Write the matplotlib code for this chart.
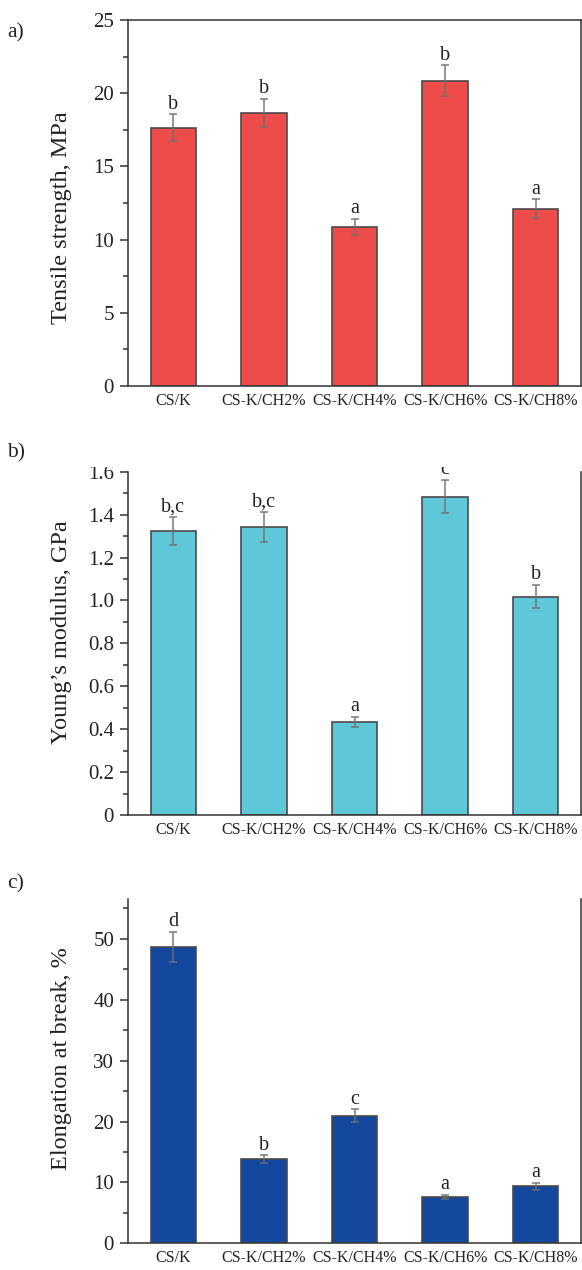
import matplotlib
matplotlib.use("Agg")
import matplotlib.pyplot as plt
from matplotlib.ticker import MultipleLocator
from matplotlib.patches import Rectangle

plt.rcParams['font.family'] = ['Liberation Serif', 'DejaVu Serif']

categories = ["CS/K", "CS-K/CH2%", "CS-K/CH4%", "CS-K/CH6%", "CS-K/CH8%"]

tensile = [17.65, 18.65, 10.88, 20.85, 12.1]
tensile_err = [0.9, 0.95, 0.55, 1.05, 0.65]
tensile_letters = ["b", "b", "a", "b", "a"]

modulus = [1.325, 1.342, 0.434, 1.484, 1.018]
modulus_err = [0.065, 0.07, 0.025, 0.077, 0.054]
modulus_letters = ["b,c", "b,c", "a", "c", "b"]

elong = [48.7, 13.8, 20.97, 7.66, 9.35]
elong_err = [2.45, 0.65, 1.05, 0.35, 0.6]
elong_letters = ["d", "b", "c", "a", "a"]

W, H = 582, 1270
fig = plt.figure(figsize=(W / 100, H / 100), dpi=100)


def make_axes(top_px, bottom_px):
    left, right = 128, 581
    return fig.add_axes([left / W, 1 - bottom_px / H, (right - left) / W, (bottom_px - top_px) / H])


def draw(ax, vals, errs, letters, color, ylim, major, minor, ylabel, fmt, top_spine, label_y):
    x = list(range(1, len(categories) + 1))
    ax.bar(x, vals, width=0.5, color=color, edgecolor="#4a4a4a", linewidth=1.2, zorder=2)
    ax.errorbar(x, vals, yerr=errs, fmt="none", ecolor="#707070", elinewidth=1.2,
                capsize=3, capthick=1.2, alpha=0.85, zorder=3)
    for xi, v, e, t in zip(x, vals, errs, letters):
        ax.annotate(t, (xi, v + e), xytext=(0, 0.5), textcoords="offset points",
                    ha="center", va="bottom", fontsize=14.5, color="#222222",
                    annotation_clip=False)
    ax.set_xlim(0.5, 5.5)
    ax.set_ylim(*ylim)
    ax.set_xticks(x)
    ax.set_xticklabels(categories, fontsize=11.5, color="#222222")
    ax.yaxis.set_major_locator(MultipleLocator(major))
    ax.yaxis.set_minor_locator(MultipleLocator(minor))
    ax.yaxis.set_major_formatter(fmt)
    ax.tick_params(axis="y", which="major", direction="out", length=6, width=1.1,
                   labelsize=15, colors="#333333", labelcolor="#222222", pad=4)
    ax.tick_params(axis="y", which="minor", direction="out", length=3.5, width=1.1, colors="#333333")
    ax.tick_params(axis="x", length=0, pad=5)
    ax.set_ylabel(ylabel, fontsize=17.5, color="#222222")
    ax.yaxis.set_label_coords(-0.124, label_y)
    for s in ax.spines.values():
        s.set_color("#333333")
        s.set_linewidth(1.1)
    ax.spines["top"].set_visible(top_spine)


def fmt_int(v, pos):
    return "%d" % round(v)


def fmt_dec(v, pos):
    if abs(v) < 1e-9:
        return "0"
    return "%.1f" % v


axa = make_axes(20, 386)
draw(axa, tensile, tensile_err, tensile_letters, "#EE4B4B", (0, 25), 5, 2.5,
     "Tensile strength, MPa", plt.FuncFormatter(fmt_int), True, 0.46)

axb = make_axes(471.7, 815)
draw(axb, modulus, modulus_err, modulus_letters, "#5FC8D8", (0, 1.6), 0.2, 0.1,
     "Young\u2019s modulus, GPa", plt.FuncFormatter(fmt_dec), False, 0.533)

axc = make_axes(899.3, 1243.3)
draw(axc, elong, elong_err, elong_letters, "#14489E", (0, 56.5), 10, 5,
     "Elongation at break, %", plt.FuncFormatter(fmt_int), False, 0.536)

# cropped top edge of panel b (as in the source figure)
fig.patches.append(Rectangle((90 / W, 1 - 466.5 / H), 1, 25 / H, transform=fig.transFigure,
                             facecolor="white", edgecolor="none", zorder=10))

fig.text(7 / W, 1 - 33 / H, "a)", fontsize=15.5, va="center", ha="left", color="#222222")
fig.text(7 / W, 1 - 453 / H, "b)", fontsize=15.5, va="center", ha="left", color="#222222")
fig.text(7 / W, 1 - 884 / H, "c)", fontsize=15.5, va="center", ha="left", color="#222222")

fig.savefig("out.png", dpi=100)
